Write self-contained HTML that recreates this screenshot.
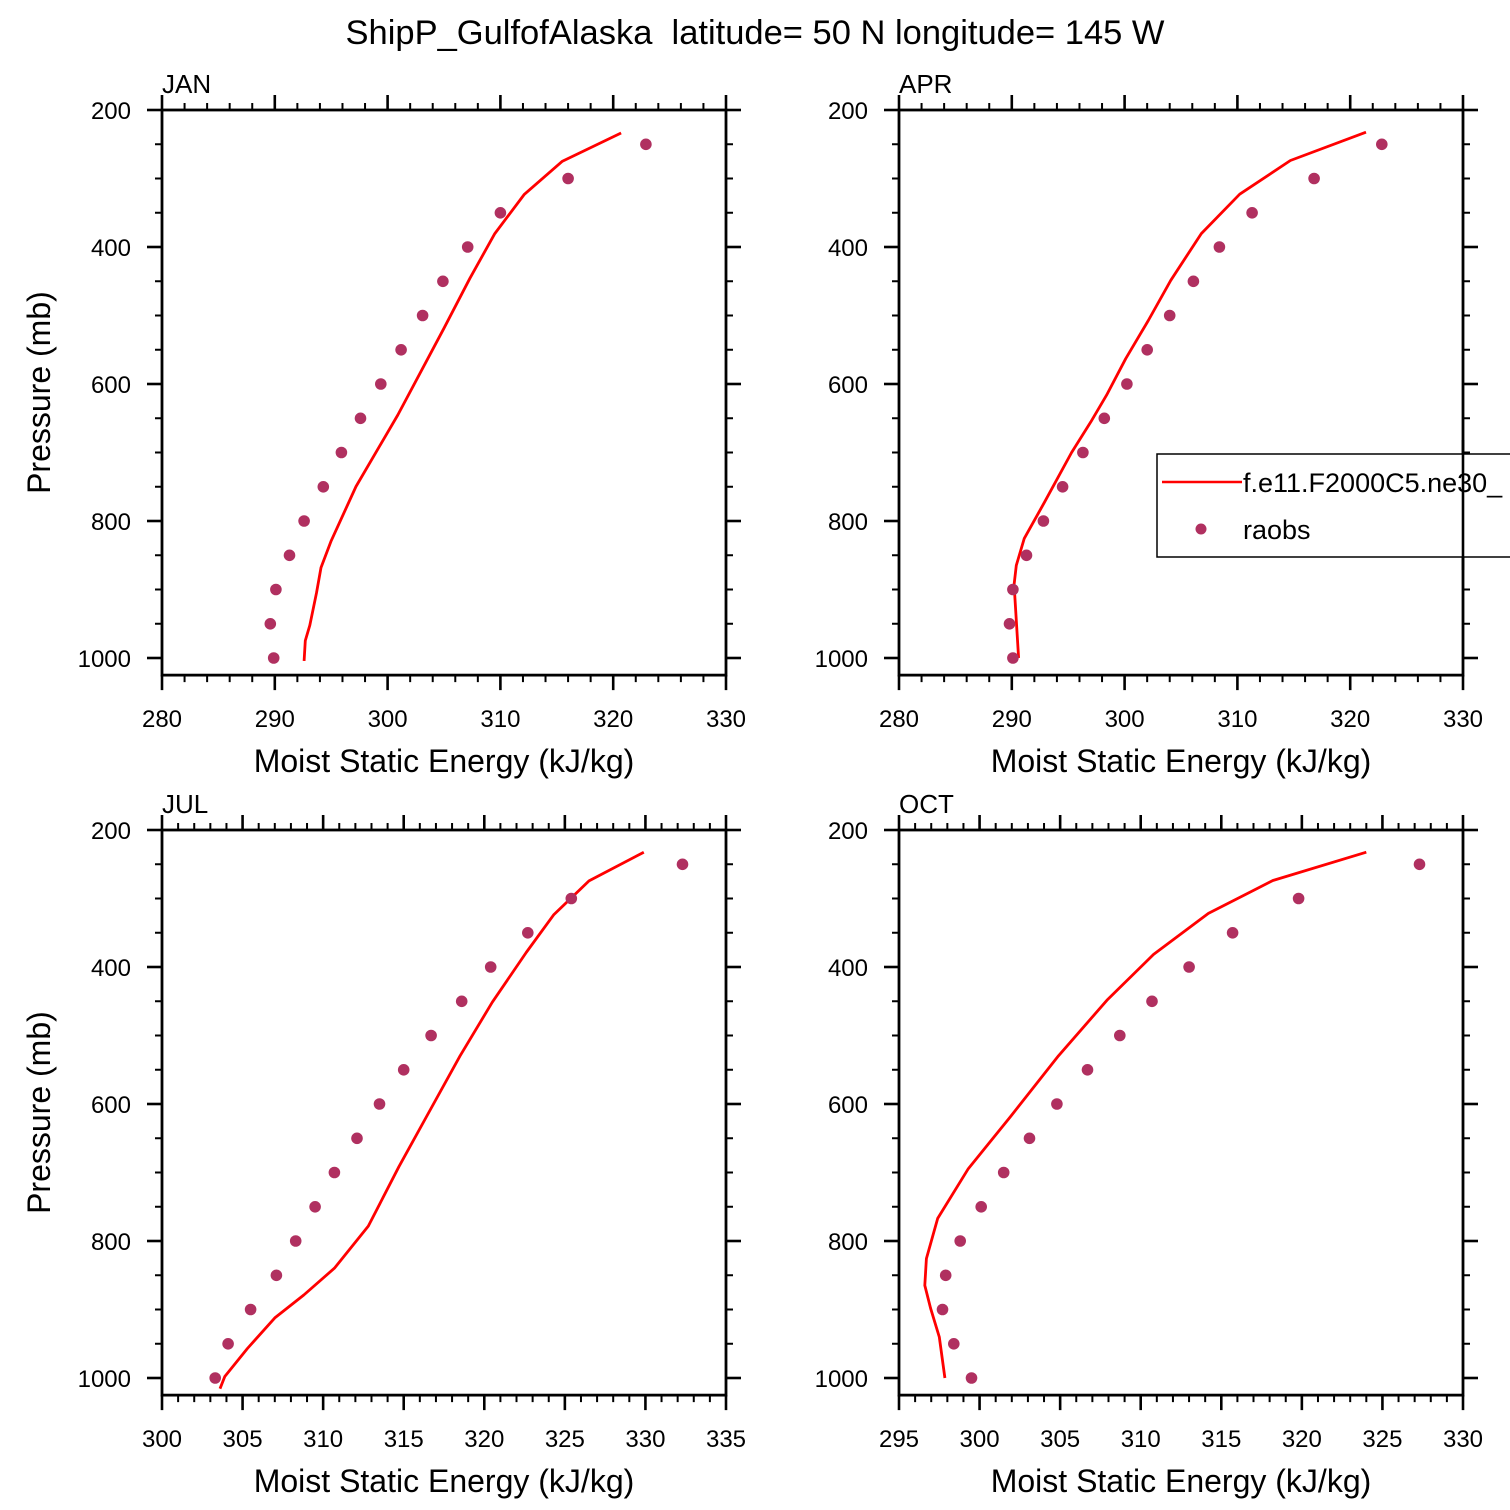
<!DOCTYPE html>
<html><head><meta charset="utf-8"><style>
html,body{margin:0;padding:0;background:#fff;}
svg{display:block;font-family:"Liberation Sans",Arial,sans-serif;}
</style></head>
<body>
<svg id="chart" width="1510" height="1510" viewBox="0 0 1510 1510" xmlns="http://www.w3.org/2000/svg">
<rect width="1510" height="1510" fill="#fff"/>
<text x="755" y="44" font-size="34.5" text-anchor="middle" style="white-space:pre">ShipP_GulfofAlaska  latitude= 50 N longitude= 145 W</text>
<g id="panels"></g>
<g>
<rect x="1157" y="454" width="360" height="103" fill="#fff" stroke="#000" stroke-width="1.5"/>
<line x1="1162" y1="482" x2="1242" y2="482" stroke="#ff0000" stroke-width="2.6"/>
<text x="1243" y="492" font-size="27">f.e11.F2000C5.ne30_</text>
<circle cx="1201" cy="529" r="5.5" fill="#b03060"/>
<text x="1243" y="539" font-size="27">raobs</text>
<line x1="1463" y1="440" x2="1463" y2="570" stroke="#000" stroke-width="2.6"/>
</g>
</svg>
<script>
// Data arrays
const obsP = [250,300,350,400,450,500,550,600,650,700,750,800,850,900,950,1000];
const janObs = [322.9,316.0,310.0,307.1,304.9,303.1,301.2,299.4,297.6,295.9,294.3,292.6,291.3,290.1,289.6,289.9];
const aprObs = [322.8,316.8,311.3,308.4,306.1,304.0,302.0,300.2,298.2,296.3,294.5,292.8,291.3,290.1,289.8,290.1];
const julObs = [332.3,325.4,322.7,320.4,318.6,316.7,315.0,313.5,312.1,310.7,309.5,308.3,307.1,305.5,304.1,303.3];
const octObs = [327.3,319.8,315.7,313.0,310.7,308.7,306.7,304.8,303.1,301.5,300.1,298.8,297.9,297.7,298.4,299.5];
const janModP = [233.6,274.7,323.5,380.5,445.7,518.6,645.2,749.7,828.9,868.1,904.9,952.4,974.6,1004.3];
const janMod = [320.7,315.5,312.1,309.5,307.3,305.0,300.9,297.2,295.0,294.1,293.7,293.1,292.7,292.6];
const aprModP = [232.4,273.7,322.9,380.4,448.6,507.3,563.1,616.2,655.3,700,772.6,825.7,864.8,892.7,1000];
const aprMod = [321.4,314.7,310.2,306.8,304.1,302.1,300.1,298.4,297.0,295.3,292.9,291.1,290.4,290.2,290.6];
const julModP = [232.4,274.3,324.0,378.8,451.4,529.6,619.0,691.6,778.2,839.7,878.8,912.3,957.0,997.8,1015.6];
const julMod = [329.9,326.5,324.3,322.6,320.5,318.5,316.4,314.7,312.8,310.7,308.8,307.0,305.3,303.9,303.6];
const octModP = [232.4,273.7,321.8,381.6,448.6,529.6,619.0,694.4,767.0,825.7,864.8,898.3,940.2,1000];
const octMod = [324.0,318.2,314.2,310.8,307.9,304.9,301.9,299.3,297.4,296.7,296.6,296.96,297.5,297.85];
const yTicks = [200,400,600,800,1000];
const xTicksA = [280,290,300,310,320,330];
const xTicksJul = [300,305,310,315,320,325,330,335];
const xTicksOct = [295,300,305,310,315,320,325,330];

const NS = "http://www.w3.org/2000/svg";
const root = document.getElementById('panels');
function mk(tag, attrs, parent){const e=document.createElementNS(NS,tag);for(const k in attrs)e.setAttribute(k,attrs[k]);parent.appendChild(e);return e;}

const panels = [
 {id:'jan',label:'JAN',x0:162,x1:726,y0:110,xmin:280,xmax:330,xt:xTicksA,minor:2,obs:janObs,mp:janModP,mv:janMod,ytitle:true},
 {id:'apr',label:'APR',x0:899,x1:1463,y0:110,xmin:280,xmax:330,xt:xTicksA,minor:2,obs:aprObs,mp:aprModP,mv:aprMod,ytitle:false},
 {id:'jul',label:'JUL',x0:162,x1:726,y0:830,xmin:300,xmax:335,xt:xTicksJul,minor:1,obs:julObs,mp:julModP,mv:julMod,ytitle:true},
 {id:'oct',label:'OCT',x0:899,x1:1463,y0:830,xmin:295,xmax:330,xt:xTicksOct,minor:1,obs:octObs,mp:octModP,mv:octMod,ytitle:false}
];
const pyScale = 0.685, pMax = 1025;

panels.forEach(P=>{
  const g = mk('g',{},root);
  
  
  const xs = v => P.x0 + (v-P.xmin)/(P.xmax-P.xmin)*(P.x1-P.x0);
  const ys = p => P.y0 + (p-200)*pyScale;
  const yB = ys(pMax);
  const cid='clip-'+P.id;
  const cp=mk('clipPath',{id:cid},g); mk('rect',{x:P.x0,y:P.y0,width:P.x1-P.x0,height:yB-P.y0},cp);
  const pts = P.mv.map((v,i)=>xs(v).toFixed(1)+','+ys(P.mp[i]).toFixed(1)).join(' ');
  const pl = mk('polyline',{points:pts,fill:'none',stroke:'#ff0000','stroke-width':2.8,'stroke-linejoin':'round','clip-path':'url(#'+cid+')'},g);
  
  
  P.obs.forEach((v,i)=>{
    const c = mk('circle',{cx:xs(v).toFixed(1),cy:ys(obsP[i]).toFixed(1),r:5.8,fill:'#b03060'},g);
    
    
  });
  const fr = mk('rect',{x:P.x0,y:P.y0,width:P.x1-P.x0,height:yB-P.y0,fill:'none',stroke:'#000','stroke-width':2.8},g);
  
  
  for(let v=P.xmin; v<=P.xmax+1e-9; v+=P.minor){
    const major = P.xt.includes(v);
    const L = major?15:7, x=xs(v);
    mk('line',{x1:x,y1:yB,x2:x,y2:yB+L,stroke:'#000','stroke-width':major?2.6:2},g);
    mk('line',{x1:x,y1:P.y0,x2:x,y2:P.y0-L,stroke:'#000','stroke-width':major?2.6:2},g);
  }
  P.xt.forEach(v=>{
    const t = mk('text',{x:xs(v),y:yB+52,'font-size':24,'text-anchor':'middle'},g);
    t.textContent = v;
    
    
  });
  for(let p=200; p<=1000; p+=50){
    const major = yTicks.includes(p);
    const L = major?15:7, y=ys(p);
    mk('line',{x1:P.x0,y1:y,x2:P.x0-L,y2:y,stroke:'#000','stroke-width':major?2.6:2},g);
    mk('line',{x1:P.x1,y1:y,x2:P.x1+L,y2:y,stroke:'#000','stroke-width':major?2.6:2},g);
  }
  yTicks.forEach(p=>{
    const t = mk('text',{x:P.x0-31,y:ys(p)+9,'font-size':24,'text-anchor':'end'},g);
    t.textContent = p;
    
    
  });
  const lab = mk('text',{x:P.x0,y:P.y0-17,'font-size':26},g);
  lab.textContent = P.label;
  
  
  const xt = mk('text',{x:(P.x0+P.x1)/2,y:yB+97,'font-size':32,'text-anchor':'middle'},g);
  xt.textContent = 'Moist Static Energy (kJ/kg)';
  
  
  if(P.ytitle){
    const cy=(P.y0+yB)/2;
    const yt = mk('text',{x:50,y:cy,'font-size':32,'text-anchor':'middle',transform:'rotate(-90 50 '+cy+')'},g);
    yt.textContent = 'Pressure (mb)';
    
    
  }
});
</script>
</body></html>
